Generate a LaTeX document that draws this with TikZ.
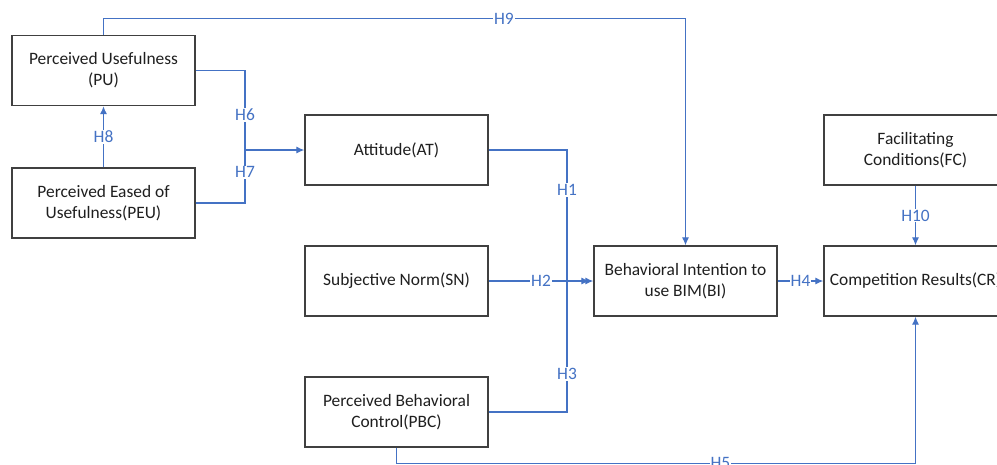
\documentclass[tikz,border=0pt]{standalone}
\usepackage{fontspec}
\setmainfont{Carlito}
\usetikzlibrary{arrows.meta}
\definecolor{hblue}{HTML}{4472C4}
\definecolor{boxgray}{HTML}{404040}
\definecolor{inkgray}{HTML}{1F1F1F}
\begin{document}
\begin{tikzpicture}[x=1pt,y=-1pt,
    every node/.style={font=\fontsize{17.4}{20.7}\selectfont,text=inkgray},
    construct/.style={draw=boxgray,line width=1.3pt,minimum width=183pt,minimum height=70pt,align=center,inner sep=2pt},
    hyp/.style={fill=white,inner sep=1pt,text=hblue},
    link/.style={draw=hblue,line width=1.2pt},
    tip/.style={link,-{Latex[length=8pt,width=7pt]}}]
  \useasboundingbox (0,0) rectangle (997,464);
  \clip (0,0) rectangle (997,464);
  \fill[white] (0,0) rectangle (997,464);
  \draw
    (103.5,70.5) node[construct] (PU){Perceived Usefulness\\(PU)}
    (103.5,203) node[construct] (PEU){Perceived Eased of\\Usefulness(PEU)}
    (396.5,150) node[construct] (AT){Attitude(AT)}
    (396.5,281) node[construct] (SN){Subjective Norm(SN)}
    (396.5,412) node[construct] (PBC){Perceived Behavioral\\Control(PBC)}
    (685.5,281) node[construct] (BI){Behavioral Intention to\\use BIM(BI)}
    (915.5,150) node[construct] (FC){Facilitating\\Conditions(FC)}
    (915.5,281) node[construct] (CR){Competition Results(CR)};
  \coordinate (j67) at (245,150);
  \coordinate (j13) at (567,281);
  \begin{scope}
    \draw[tip] (PEU.north) -- node[hyp]{H8} (PU.south);
    \draw[link] (PU.east) -| node[hyp,pos=0.78]{H6} (j67);
    \draw[link] (PEU.east) -| node[hyp,pos=0.79]{H7} (j67);
    \draw[tip] (j67) -- (AT.west);
    \draw[tip] (PU.north) -- ++(0,-16) -| node[hyp,pos=0.344]{H9} (BI.north);
    \draw[link] (AT.east) -| node[hyp,pos=0.653]{H1} (j13);
    \draw[link] (PBC.east) -| node[hyp,pos=0.645]{H3} (j13);
    \draw[tip,shorten >=4pt] (SN.east) -- node[hyp]{H2} (BI.west);
    \draw[tip] (j13) -- (BI.west);
    \draw[tip] (BI.east) -- node[hyp]{H4} (CR.west);
    \draw[tip] (FC.south) -- node[hyp]{H10} (CR.north);
    \draw[tip] (PBC.south) -- ++(0,15.7) -| node[hyp,pos=0.312]{H5} (CR.south);
  \end{scope}
\end{tikzpicture}
\end{document}
